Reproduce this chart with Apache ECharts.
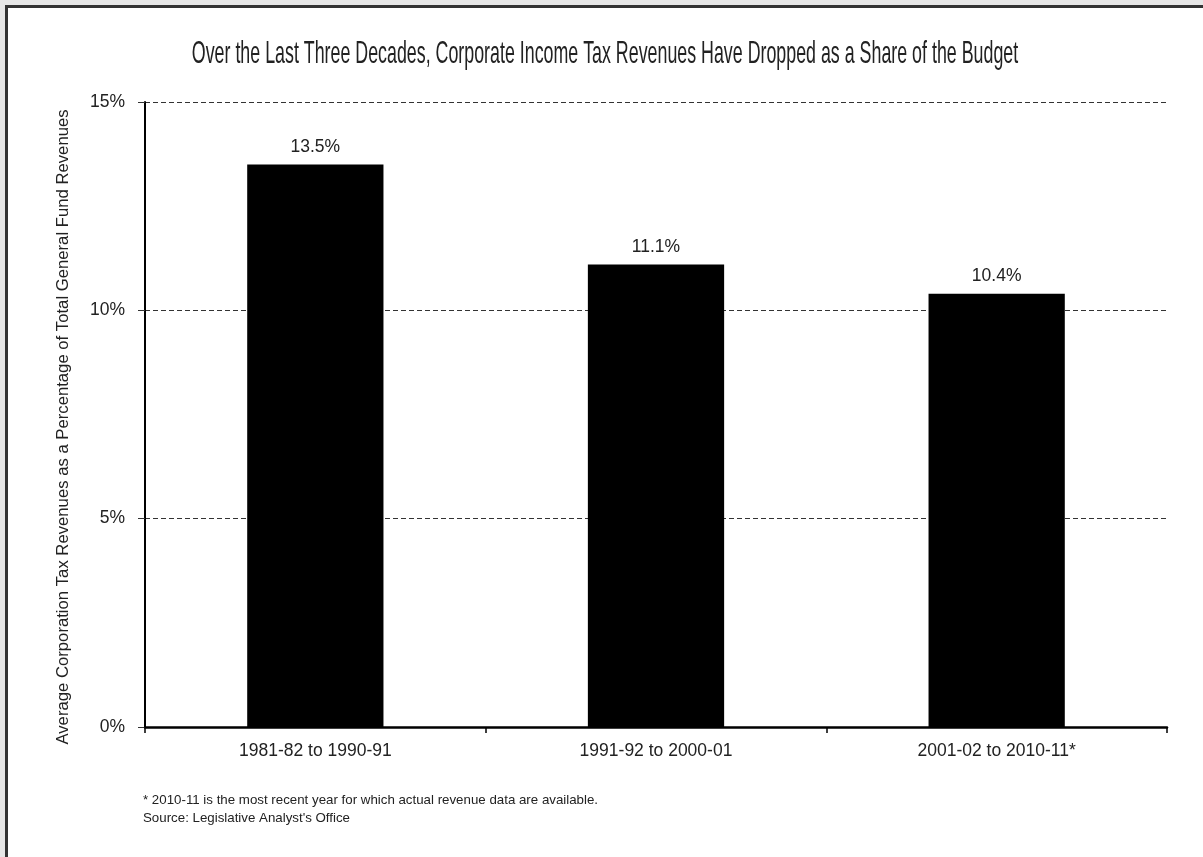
<!DOCTYPE html>
<html>
<head>
<meta charset="utf-8">
<script src="https://cdn.jsdelivr.net/npm/echarts@6/dist/echarts.min.js"></script>
<style>
html,body{margin:0;padding:0;width:1203px;height:857px;overflow:hidden;background:#e6e6e6;}
#frame{position:absolute;left:5px;top:5px;width:1300px;height:1000px;border:3px solid #333;background:#fff;}
#chart{position:absolute;left:0;top:0;width:1203px;height:857px;}
</style>
</head>
<body>
<div id="frame"></div>
<div id="chart"></div>
<script>
const titleText = 'Over the Last Three Decades, Corporate Income Tax Revenues Have Dropped as a Share of the Budget';
const yAxisName = 'Average Corporation Tax Revenues as a Percentage of Total General Fund Revenues';
const categories = ['1981-82 to 1990-91', '1991-92 to 2000-01', '2001-02 to 2010-11*'];
const values = [13.5, 11.1, 10.4];
const yTicks = [0, 5, 10, 15];
const footnotes = ['* 2010-11 is the most recent year for which actual revenue data are available.', "Source: Legislative Analyst's Office"];

const FONT = '"Liberation Sans", Arial, sans-serif';
const chart = echarts.init(document.getElementById('chart'), null, {renderer: 'canvas'});
chart.setOption({
  animation: false,
  backgroundColor: 'transparent',
  grid: {left: 145, right: 36, top: 102, bottom: 130, containLabel: false},
  xAxis: {
    type: 'category',
    data: categories,
    axisLine: {lineStyle: {color: '#000', width: 2.5}},
    axisTick: {show: true, length: 6, lineStyle: {color: '#000', width: 1.5}},
    axisLabel: {fontFamily: FONT, fontSize: 17.5, color: '#222', margin: 15}
  },
  yAxis: {
    type: 'value',
    min: yTicks[0],
    max: yTicks[yTicks.length - 1],
    interval: yTicks[1] - yTicks[0],
    axisLine: {show: true, lineStyle: {color: '#000', width: 2}},
    axisTick: {show: true, length: 7, lineStyle: {color: '#333', width: 1}},
    axisLabel: {fontFamily: FONT, fontSize: 17.5, color: '#222', margin: 20, formatter: '{value}%'},
    splitLine: {show: true, lineStyle: {color: '#333', width: 1, type: [5, 3]}}
  },
  series: [{
    type: 'bar',
    data: values,
    barWidth: '40%',
    itemStyle: {color: '#000'},
    label: {show: true, position: 'top', distance: 8, fontFamily: FONT, fontSize: 17.5, color: '#222', formatter: p => p.value.toFixed(1) + '%'}
  }],
  graphic: [
    {type: 'text', x: 605, y: 54, scaleX: 0.557, style: {x: 0, y: 0, text: titleText, font: '32px "Liberation Sans", Arial, sans-serif', fill: '#222', textAlign: 'center', textVerticalAlign: 'middle'}},
    {type: 'text', x: 63, y: 427, rotation: Math.PI / 2, style: {x: 0, y: 0, text: yAxisName, font: '16.7px ' + FONT, fill: '#222', textAlign: 'center', textVerticalAlign: 'middle'}},
    {type: 'text', x: 143, y: 800, style: {text: footnotes[0], font: '13.3px ' + FONT, fill: '#222', textVerticalAlign: 'middle'}},
    {type: 'text', x: 143, y: 818, style: {text: footnotes[1], font: '13.3px ' + FONT, fill: '#222', textVerticalAlign: 'middle'}}
  ]
});
</script>
</body>
</html>
